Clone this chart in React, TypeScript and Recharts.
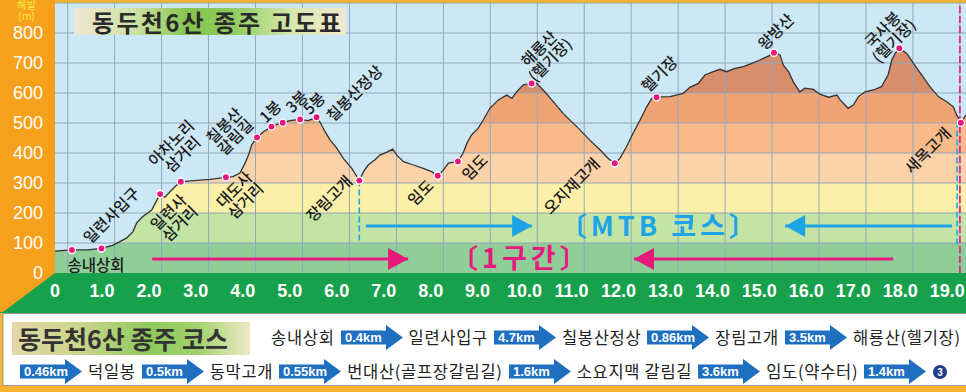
import React from 'react';
import {
  ComposedChart, Area, Line, XAxis, YAxis, CartesianGrid,
  ReferenceArea, ReferenceLine, ReferenceDot,
} from 'recharts';

const KR = '"Noto Sans CJK KR", "Noto Sans", sans-serif';
const LAT = '"Liberation Sans", Arial, sans-serif';

// ---------- elevation profile (km, m) ----------
const profileKm = [0, 0.36, 0.70, 0.99, 1.24, 1.53, 1.66, 1.74, 1.87, 2.06, 2.17, 2.24, 2.34, 2.45, 2.56, 2.68, 2.95, 3.30, 3.64, 3.79, 3.94, 4.05, 4.12, 4.19, 4.30, 4.44, 4.61, 4.76, 4.85, 5.00, 5.22, 5.39, 5.57, 5.64, 5.75, 5.86, 6.00, 6.14, 6.32, 6.48, 6.57, 6.67, 6.81, 6.92, 7.08, 7.19, 7.28, 7.42, 7.63, 7.84, 8.02, 8.15, 8.27, 8.38, 8.58, 8.69, 8.77, 8.87, 9.01, 9.12, 9.26, 9.44, 9.62, 9.73, 9.83, 9.97, 10.15, 10.26, 10.43, 10.61, 10.82, 11.11, 11.39, 11.61, 11.78, 11.92, 12.03, 12.17, 12.31, 12.46, 12.60, 12.71, 12.81, 13.10, 13.38, 13.52, 13.70, 13.84, 14.02, 14.16, 14.30, 14.48, 14.66, 14.84, 15.01, 15.19, 15.31, 15.44, 15.51, 15.62, 15.72, 15.86, 15.97, 16.15, 16.29, 16.47, 16.65, 16.72, 16.89, 17.00, 17.11, 17.25, 17.43, 17.60, 17.74, 17.82, 17.89, 17.98, 18.14, 18.28, 18.46, 18.63, 18.81, 18.99, 19.13, 19.20, 19.29, 19.40];
const profileElev = [73, 77, 77, 82, 93, 117, 138, 167, 188, 210, 243, 263, 253, 271, 288, 304, 308, 312, 319, 321, 333, 367, 393, 427, 452, 471, 488, 497, 501, 508, 512, 508, 519, 504, 471, 443, 416, 382, 349, 308, 338, 360, 377, 393, 404, 413, 393, 371, 360, 349, 338, 324, 343, 366, 372, 399, 432, 460, 482, 510, 549, 577, 593, 582, 604, 627, 632, 632, 604, 571, 532, 488, 443, 410, 382, 366, 382, 421, 466, 510, 554, 582, 586, 588, 599, 619, 632, 660, 671, 679, 671, 682, 688, 699, 710, 723, 734, 727, 693, 671, 638, 604, 616, 612, 596, 586, 593, 577, 549, 560, 588, 604, 610, 621, 660, 710, 732, 749, 732, 699, 660, 621, 588, 571, 554, 527, 501, 527];

// ---------- waypoints ----------
const markerNames = ['송내상회', '일련사입구', '일련사\n삼거리', '아차노리\n삼거리', '대도사\n삼거리', '칠봉산\n갈림길', '1봉', '3봉', '5봉', '칠봉산정상', '장림고개', '임도', '임도', '해룡산\n(헬기장)', '오지재고개', '헬기장', '왕방산', '국사봉\n(헬기장)', '새목고개'];
const markerKm = [0.36, 0.99, 2.24, 2.68, 3.64, 4.30, 4.61, 4.85, 5.22, 5.57, 6.48, 8.15, 8.58, 10.15, 11.92, 12.81, 15.31, 17.98, 19.29];
const markerElev = [77, 82, 263, 304, 319, 452, 488, 501, 512, 519, 308, 324, 372, 632, 366, 586, 734, 749, 501];

// label placement (styling only)
const labelDx = [24, 10, 14, -4, 14, -27, -1, 14, 14, 38, -30, -17, 17, 13, -43, 3, 2, -11, -33];
const labelDy = [16, -33, 24, -33, 18, -6, -15, -21, -16, -24, 18, 17, 6, -29, 23, -23, -21, -13, 28];

// ---------- axes ----------
const xTicks = [0, 1, 2, 3, 4, 5, 6, 7, 8, 9, 10, 11, 12, 13, 14, 15, 16, 17, 18, 19];
const yTicks = [0, 100, 200, 300, 400, 500, 600, 700, 800];
const gridY = [100, 200, 300, 400, 500, 600, 700, 800, 900];
const gridX = xTicks.map((t) => t + 0.27);

// ---------- elevation bands ----------
const bandLow = [0, 100, 200, 300, 400, 500, 600];
const bandHigh = [100, 200, 300, 400, 500, 600, 900];
const bandColor = ['#8fcd99', '#c3e4a5', '#fcf0a8', '#fcd2a8', '#f8ba8a', '#f0a373', '#d88d6b'];

// ---------- course arrows ----------
const arrowFrom = [6.62, 19.10, 2.07, 17.85];
const arrowTo = [10.16, 15.55, 7.52, 12.33];
const arrowElev = [157, 157, 47, 47];
const arrowColor = ['#1da4e6', '#1da4e6', '#e8197d', '#e8197d'];
const sectionText = ['〔MTB 코스〕', '〔1구간〕'];
const sectionKm = [12.88, 9.92];
const sectionElev = [155, 48];
const sectionColor = ['#1da4e6', '#e8197d'];

// ---------- course list ----------
const courseRow1 = ['송내상회', '0.4km', '일련사입구', '4.7km', '칠봉산정상', '0.86km', '장림고개', '3.5km', '해룡산(헬기장)', '1.9km'];
const courseRow2 = ['0.46km', '덕일봉', '0.5km', '동막고개', '0.55km', '번대산(골프장갈림길)', '1.6km', '소요지맥 갈림길', '3.6km', '임도(약수터)', '1.4km', '3'];

const profile = profileKm.map((km, i) => ({ km, elev: profileElev[i] }));

const markerShape = (i: number) => (p: any) => {
  const { cx, cy } = p;
  const lines = markerNames[i].split('\n');
  const rot = i === 0 ? 0 : -45;
  const lh = 16;
  return (
    <g>
      <g transform={`translate(${cx + labelDx[i]},${cy + labelDy[i]}) rotate(${rot})`}>
        <text textAnchor="middle" fontSize={15.5} fontWeight={500} fill="#1a1a1a" fontFamily={KR}>
          {lines.map((ln, k) => (
            <tspan key={k} x={0} y={(k - (lines.length - 1) / 2) * lh} dy="0.36em">{ln}</tspan>
          ))}
        </text>
      </g>
      <circle cx={cx} cy={cy} r={3.6} fill="#e8157f" stroke="#ffffff" strokeWidth={1.3} />
    </g>
  );
};

const arrowHead = (dir: number, color: string) => (p: any) => {
  const { cx, cy } = p;
  const L = 20;
  const H = 11;
  return <polygon points={`${cx},${cy} ${cx - dir * L},${cy - H} ${cx - dir * L},${cy + H}`} fill={color} />;
};

const sectionShape = (i: number) => (p: any) => (
  <text x={p.cx} y={p.cy} dy="0.36em" textAnchor="middle" fontSize={27} fontWeight="bold"
    fill={sectionColor[i]} fontFamily={KR} letterSpacing={4}>{sectionText[i]}</text>
);

const KmArrow = ({ label }: { label: string }) => (
  <svg width={62} height={25} style={{ display: 'block', flex: 'none' }}>
    <rect x={0} y={5.5} width={46} height={14} fill="#1f6fc1" />
    <polygon points="45,0 62,12.5 45,25" fill="#1f6fc1" />
    <text x={4} y={17} fill="#ffffff" fontSize={13} fontWeight="bold" fontFamily={LAT}>{label}</text>
  </svg>
);

const CourseRow = ({ items, left, top }: { items: string[]; left: number; top: number }) => (
  <div style={{ position: 'absolute', left, top, height: 25, display: 'flex', alignItems: 'center', gap: 6, whiteSpace: 'nowrap' }}>
    {items.map((it, k) => {
      if (/km$/.test(it)) return <KmArrow key={k} label={it} />;
      if (/^\d$/.test(it)) {
        return (
          <svg key={k} width={16} height={16} style={{ display: 'block', flex: 'none' }}>
            <circle cx={8} cy={8} r={7} fill="#1d3c8c" />
            <text x={8} y={12} textAnchor="middle" fontSize={10} fontWeight="bold" fill="#fff" fontFamily={LAT}>{it}</text>
          </svg>
        );
      }
      return <span key={k} style={{ fontSize: 16.5, color: '#222', fontFamily: KR, lineHeight: '25px', letterSpacing: 0.7 }}>{it}</span>;
    })}
  </div>
);

export default function App() {
  return (
    <div style={{ position: 'absolute', left: 0, top: 0, width: 966, height: 392, overflow: 'hidden', background: '#f7b32e' }}>
      <svg width={966} height={392} style={{ position: 'absolute', left: 0, top: 0 }}>
        <rect x={0} y={0} width={55} height={274} fill="#f6a11c" />
        <rect x={0} y={273} width={966} height={40} fill="#18a14c" />
        <polygon points="0,273 55,273 3,312 0,312" fill="#f6a11c" />
        <rect x={3} y={313.5} width={970} height={72} fill="#ffffff" stroke="#9a9a9a" strokeWidth={1} />
      </svg>

      <div style={{ position: 'absolute', left: 0, top: 0 }}>
        <ComposedChart width={966} height={392} margin={{ top: 3, right: 0, bottom: 79, left: 0 }}>
          {bandLow.map((lo, i) => (
            <ReferenceArea key={`b${i}`} y1={lo} y2={bandHigh[i]} fill={bandColor[i]} fillOpacity={1}
              stroke="none" ifOverflow="visible" zIndex={10} />
          ))}
          <Area data={profile} dataKey="elev" type="linear" baseValue={900} fill="#cce7f5" fillOpacity={1}
            stroke="none" isAnimationActive={false} zIndex={20} activeDot={false} />
          <CartesianGrid stroke="#93a8bb" strokeWidth={1} verticalValues={gridX} horizontalValues={gridY} zIndex={30} />
          <Line data={profile} dataKey="elev" type="linear" stroke="#333333" strokeWidth={1.3} dot={false}
            activeDot={false} isAnimationActive={false} zIndex={40} />
          <XAxis dataKey="km" type="number" domain={[0, 19.4]} allowDataOverflow ticks={xTicks} interval={0}
            height={40} axisLine={false} tickLine={false} tickSize={6} tickMargin={5}
            tickFormatter={(v: number) => (v === 0 ? '0' : v.toFixed(1))}
            tick={{ fill: '#ffffff', fontSize: 18, fontWeight: 'bold', fontFamily: LAT }} />
          <YAxis type="number" domain={[0, 900]} allowDataOverflow ticks={yTicks} interval={0} width={55}
            axisLine={false} tickLine={false} tickSize={6} tickMargin={6}
            tick={{ fill: '#ffffff', fontSize: 18, fontFamily: LAT }} />

          <ReferenceLine segment={[{ x: markerKm[10], y: markerElev[10] }, { x: markerKm[10], y: 100 }]}
            stroke="#1da4e6" strokeWidth={1.6} strokeDasharray="6 3" ifOverflow="visible" zIndex={50} />
          <ReferenceLine segment={[{ x: 19.21, y: 505 }, { x: 19.21, y: 90 }]}
            stroke="#1da4e6" strokeWidth={1.6} strokeDasharray="6 3" ifOverflow="visible" zIndex={50} />
          <ReferenceLine x={19.27} stroke="#e8197d" strokeWidth={1.6} strokeDasharray="7 3" ifOverflow="visible" zIndex={51} />

          {arrowFrom.map((f, i) => (
            <ReferenceLine key={`a${i}`} segment={[{ x: f, y: arrowElev[i] }, { x: arrowTo[i], y: arrowElev[i] }]}
              stroke={arrowColor[i]} strokeWidth={3} ifOverflow="visible" zIndex={52} />
          ))}
          {arrowTo.map((t, i) => (
            <ReferenceDot key={`h${i}`} x={t} y={arrowElev[i]} r={1} ifOverflow="visible" zIndex={53}
              shape={arrowHead(t > arrowFrom[i] ? 1 : -1, arrowColor[i])} />
          ))}
          {sectionText.map((s, i) => (
            <ReferenceDot key={`s${i}`} x={sectionKm[i]} y={sectionElev[i]} r={1} ifOverflow="visible" zIndex={54}
              shape={sectionShape(i)} />
          ))}
          {markerNames.map((n, i) => (
            <ReferenceDot key={`m${i}`} x={markerKm[i]} y={markerElev[i]} r={4} ifOverflow="visible" zIndex={60}
              shape={markerShape(i)} />
          ))}
        </ComposedChart>
      </div>

      {/* y-axis unit */}
      <div style={{ position: 'absolute', left: 0, width: 53, top: -1, textAlign: 'center', fontFamily: KR, fontSize: 10.5, lineHeight: '11px', color: '#ffec3d' }}>
        해발<br />(m)
      </div>

      {/* chart title */}
      <div style={{
        position: 'absolute', left: 74, top: 8, width: 272, height: 27,
        background: 'linear-gradient(90deg, #f0e6d2 0%, #cfe3a6 22%, #86c44f 42%, #8ecb5c 58%, #d7e7b0 80%, #f2eacf 100%)',
      }}>
        <span style={{ position: 'absolute', left: 18, top: 0, fontSize: 24, lineHeight: '27px', fontWeight: 700, color: '#2a2a2a', fontFamily: KR, letterSpacing: 2.3, whiteSpace: 'nowrap' }}>
          동두천6산 종주 고도표
        </span>
      </div>

      {/* course title */}
      <div style={{
        position: 'absolute', left: 12, top: 322, width: 238, height: 33,
        background: 'linear-gradient(90deg, #e4d7a6 0%, #c8d58a 30%, #8fc95b 58%, #a2d26c 78%, #efe8c6 100%)',
      }}>
        <span style={{ position: 'absolute', left: 6, top: 0, fontSize: 25, lineHeight: '33px', fontWeight: 700, color: '#333', fontFamily: KR, whiteSpace: 'nowrap' }}>
          동두천6산 종주 코스
        </span>
      </div>

      <CourseRow items={courseRow1} left={271} top={325} />
      <CourseRow items={courseRow2} left={20} top={359} />
    </div>
  );
}
